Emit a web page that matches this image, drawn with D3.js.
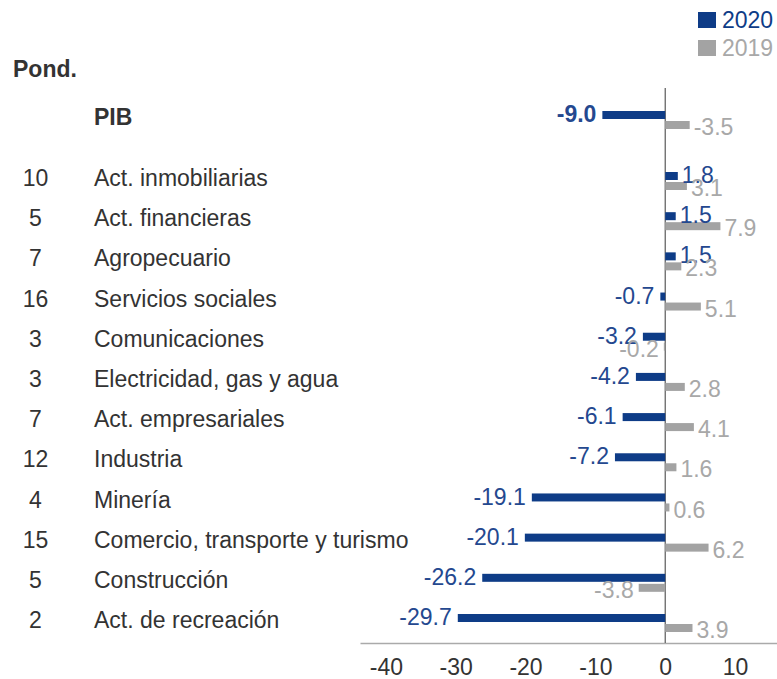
<!DOCTYPE html>
<html>
<head>
<meta charset="utf-8">
<script src="https://cdn.jsdelivr.net/npm/d3@7"></script>
<style>
  body { margin: 0; background: #fff; }
  svg { display: block; font-family: "Liberation Sans", Arial, sans-serif; }
</style>
</head>
<body>
<div id="chart"></div>
<script>
// data
var total = "PIB";
var total2020 = -9.0;
var total2019 = -3.5;

var sectors = ["Act. inmobiliarias", "Act. financieras", "Agropecuario", "Servicios sociales",
  "Comunicaciones", "Electricidad, gas y agua", "Act. empresariales", "Industria",
  "Minería", "Comercio, transporte y turismo", "Construcción", "Act. de recreación"];
var weights = [10, 5, 7, 16, 3, 3, 7, 12, 4, 15, 5, 2];
var values2020 = [1.8, 1.5, 1.5, -0.7, -3.2, -4.2, -6.1, -7.2, -19.1, -20.1, -26.2, -29.7];
var values2019 = [3.1, 7.9, 2.3, 5.1, -0.2, 2.8, 4.1, 1.6, 0.6, 6.2, -3.8, 3.9];
var ticks = [-40, -30, -20, -10, 0, 10];
var seriesNames = ["2020", "2019"];

var width = 777, height = 679;
var blue = "#0e3c87", gray = "#a3a3a3", ink = "#333";
var fs = 23;

var svg = d3.select("#chart").append("svg")
  .attr("width", width).attr("height", height);

var x = d3.scaleLinear().domain([-43.7, 16]).range([360, 777]);
var y = d3.scalePoint().domain(sectors).range([178, 620]);
var pibY = 117;

// the original draws the PIB 2019 bar on the right side of zero (flip flag)
var rows = [{name: total, w: null, a: total2020, b: total2019, cy: pibY, bold: true, flipB: true}];
sectors.forEach(function(s, i) {
  rows.push({name: s, w: weights[i], a: values2020[i], b: values2019[i], cy: y(s), bold: false, flipB: false});
});

var fmt = function(v) { return v.toFixed(1); };
var drawnB = function(d) { return d.flipB ? Math.abs(d.b) : d.b; };

// header
svg.append("text")
  .attr("x", 13).attr("y", 69).attr("dy", ".35em")
  .style("font-size", fs + "px").style("font-weight", "bold").attr("fill", ink)
  .text("Pond.");

// legend
var legend = svg.append("g").selectAll("g")
  .data(seriesNames).enter().append("g")
  .attr("transform", function(d, i) { return "translate(698," + (12 + i * 28) + ")"; });
legend.append("rect")
  .attr("width", 18).attr("height", 16)
  .attr("fill", function(d, i) { return i ? gray : blue; });
legend.append("text")
  .attr("x", 24).attr("y", 8).attr("dy", ".35em")
  .style("font-size", fs + "px")
  .attr("fill", function(d, i) { return i ? "#a8a8a8" : blue; })
  .text(function(d) { return d; });

// x axis
var axis = svg.append("g")
  .attr("transform", "translate(0,643)")
  .call(d3.axisBottom(x).tickValues(ticks).tickSize(0).tickPadding(16)
    .tickFormat(function(d) { return String(d); }));
axis.select(".domain").attr("stroke", "#aaa").attr("stroke-width", 1.5);
axis.selectAll("text").style("font-size", fs + "px").style("font-family", "inherit").attr("fill", ink);

// zero line
svg.append("line")
  .attr("x1", x(0)).attr("x2", x(0)).attr("y1", 88).attr("y2", 643)
  .attr("stroke", "#666").attr("stroke-width", 1.3);

var row = svg.append("g").selectAll("g")
  .data(rows).enter().append("g");

row.append("text")
  .attr("x", 35.5).attr("y", function(d) { return d.cy; }).attr("dy", ".35em")
  .attr("text-anchor", "middle")
  .style("font-size", fs + "px").attr("fill", ink)
  .text(function(d) { return d.w == null ? "" : d.w; });

row.append("text")
  .attr("x", 94).attr("y", function(d) { return d.cy; }).attr("dy", ".35em")
  .style("font-size", fs + "px").style("font-weight", function(d) { return d.bold ? "bold" : null; })
  .attr("fill", ink)
  .text(function(d) { return d.name; });

// 2020 bars
row.append("rect")
  .attr("x", function(d) { return Math.min(x(0), x(d.a)); })
  .attr("width", function(d) { return Math.abs(x(d.a) - x(0)); })
  .attr("y", function(d) { return d.cy - 6; })
  .attr("height", 8)
  .attr("fill", blue);

// 2019 bars
row.append("rect")
  .attr("x", function(d) { return Math.min(x(0), x(drawnB(d))); })
  .attr("width", function(d) { return Math.abs(x(drawnB(d)) - x(0)); })
  .attr("y", function(d) { return d.cy + 4; })
  .attr("height", 8)
  .attr("fill", gray);

// value labels
row.append("text")
  .attr("x", function(d) { return d.a < 0 ? x(d.a) - 6 : x(d.a) + 4; })
  .attr("y", function(d) { return d.cy - 3; }).attr("dy", ".35em")
  .attr("text-anchor", function(d) { return d.a < 0 ? "end" : "start"; })
  .style("font-size", fs + "px").style("font-weight", function(d) { return d.bold ? "bold" : null; })
  .attr("fill", "#24488f")
  .text(function(d) { return fmt(d.a); });

row.append("text")
  .attr("x", function(d) { var v = drawnB(d); return v < 0 ? x(v) - 5 : x(v) + 4; })
  .attr("y", function(d) { return d.cy + 10; }).attr("dy", ".35em")
  .attr("text-anchor", function(d) { return drawnB(d) < 0 ? "end" : "start"; })
  .style("font-size", fs + "px")
  .attr("fill", "#a8a8a8")
  .text(function(d) { return fmt(d.b); });
</script>
</body>
</html>
